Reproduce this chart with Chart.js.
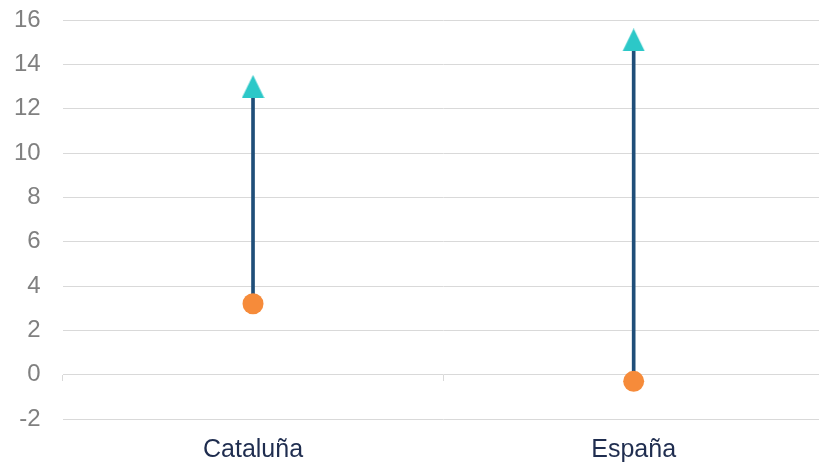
<!DOCTYPE html>
<html>
<head>
<meta charset="utf-8">
<script src="https://cdn.jsdelivr.net/npm/chart.js@4/dist/chart.umd.min.js"></script>
<style>
  html, body { margin: 0; padding: 0; background: #fff; overflow: hidden; }
  canvas { display: block; }
</style>
</head>
<body>
<canvas id="c" width="824" height="470"></canvas>
<script>
const categories = ['Cataluña', 'España'];
const startValues = [3.2, -0.3];   // circles
const endValues = [13.0, 15.1];    // triangles
const yTicks = [-2, 0, 2, 4, 6, 8, 10, 12, 14, 16];

const ranges = categories.map((_, i) => [startValues[i], endValues[i]]);
const FONT = "'Liberation Sans', Arial, sans-serif";
const TEAL = '#2CC8C8';
const ORANGE = '#F68B3A';

// marker image: upward triangle (22 wide, 23 tall)
const tri = document.createElement('canvas');
tri.width = 23; tri.height = 23;
(function () {
  const g = tri.getContext('2d');
  g.fillStyle = TEAL;
  g.beginPath();
  g.moveTo(11.5, 0);
  g.lineTo(22.7, 23);
  g.lineTo(0.3, 23);
  g.closePath();
  g.fill();
})();

new Chart(document.getElementById('c'), {
  data: {
    labels: categories,
    datasets: [
      {
        type: 'bar',
        data: ranges,
        backgroundColor: '#1F4E79',
        barThickness: 3,
        order: 3
      },
      {
        type: 'line',
        data: endValues,
        showLine: false,
        pointStyle: tri,
        pointRadius: 12,
        pointBackgroundColor: TEAL,
        pointBorderWidth: 0,
        clip: false,
        order: 1
      },
      {
        type: 'line',
        data: startValues,
        showLine: false,
        pointStyle: 'circle',
        pointRadius: 10.5,
        pointBackgroundColor: ORANGE,
        pointBorderColor: ORANGE,
        pointBorderWidth: 0,
        clip: false,
        order: 1
      }
    ]
  },
  options: {
    responsive: false,
    animation: false,
    layout: { autoPadding: false, padding: { top: 20, left: 14, right: 0, bottom: 0 } },
    plugins: { legend: { display: false }, tooltip: { enabled: false } },
    scales: {
      x: {
        type: 'category',
        offset: true,
        grid: { display: false, drawTicks: true, tickLength: 11 },
        border: { display: false },
        ticks: {
          color: '#1F2D4F',
          font: { family: FONT, size: 25 },
          padding: 5,
          maxRotation: 0
        }
      },
      x2: {
        type: 'category',
        position: { y: 0 },
        offset: true,
        grid: {
          offset: true,
          drawOnChartArea: false,
          drawTicks: true,
          tickLength: 6,
          color: '#D9D9D9'
        },
        border: { display: false },
        ticks: { display: false }
      },
      y: {
        min: -2,
        max: 16,
        afterBuildTicks: (scale) => { scale.ticks = yTicks.map(v => ({ value: v })); },
        grid: {
          color: '#D9D9D9',
          drawTicks: true,
          tickLength: 22,
          tickColor: 'rgba(0,0,0,0)',
          lineWidth: 1
        },
        border: { display: false },
        ticks: {
          color: '#808080',
          font: { family: FONT, size: 24 },
          padding: 0
        }
      }
    }
  }
});
</script>
</body>
</html>
